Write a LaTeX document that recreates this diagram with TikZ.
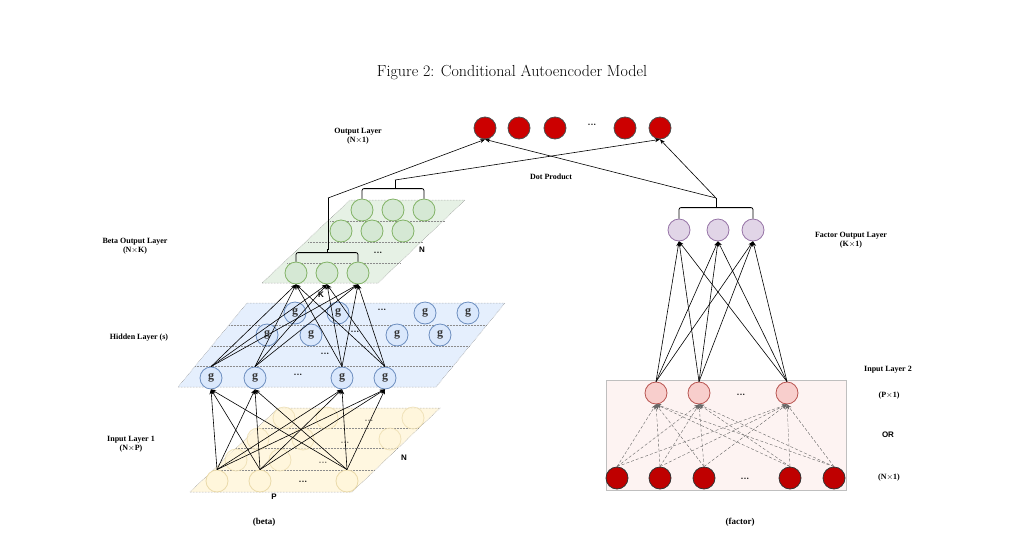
\documentclass[tikz,border=0pt]{standalone}
\usepackage{fontspec}
\setmainfont{Latin Modern Roman}
\newfontfamily\tms{Liberation Serif}
\newfontfamily\hlv{Liberation Sans}
\usetikzlibrary{arrows.meta}
\definecolor{gfill}{HTML}{D5E8D4}\definecolor{gdraw}{HTML}{82B366}
\definecolor{bfill}{HTML}{DAE8FC}\definecolor{bdraw}{HTML}{6C8EBF}
\definecolor{yfill}{HTML}{FFF2CC}\definecolor{ydraw}{HTML}{D6B656}
\definecolor{pfill}{HTML}{E1D5E7}\definecolor{pdraw}{HTML}{9673A6}
\definecolor{rfill}{HTML}{F8CECC}\definecolor{rdraw}{HTML}{B85450}
\definecolor{red2}{HTML}{CC0000}
\tikzset{
 neu/.style={circle,minimum size=22pt,inner sep=0pt,line width=0.8pt},
 gn/.style={neu,fill=gfill,draw=gdraw},
 bn/.style={neu,fill=bfill,draw=bdraw,font=\tms\bfseries\large,text=black!80,execute at begin node={g}},
 yn/.style={neu,fill=yfill!70,draw=ydraw!50},
 pn/.style={neu,fill=pfill,draw=pdraw},
 rn/.style={neu,fill=rfill,draw=rdraw},
 on/.style={neu,fill=red2,draw=black!70},
 dn/.style={neu,fill=red!75!black,draw=black!80},
 lab/.style={font=\tms\bfseries\fontsize{8}{9}\selectfont,align=center},
 sl/.style={font=\hlv\bfseries\fontsize{8}{9}\selectfont},
 dots/.style={font=\bfseries\small},
 plane/.style={draw=black!45,densely dotted,line width=0.5pt},
 row/.style={draw=black!45,densely dotted,line width=0.5pt},
 ar/.style={-{Stealth[length=5pt,width=4pt]},line width=0.6pt},
 br/.style={line width=0.8pt,rounded corners=2pt},
}
\begin{document}
\begin{tikzpicture}[x=1pt,y=-1pt]
\useasboundingbox (0,0) rectangle (1013,547);
\node at (512,72) {\fontsize{16}{18}\selectfont Figure 2: Conditional Autoencoder Model};
% ---------- input plane (yellow)
\fill[yfill!60,plane] (190,492)--(352,492)--(440,408)--(278,408)--cycle;
\foreach \y/\a/\b in {428/257/419,448/236/398,470/213/375}
  \draw[row] (\a,\y)--(\b,\y);
\foreach \n/\x/\y in {y41/284/418,y42/327/418,y43/413/418,y31/258/439,y32/303/439,y33/390/439,y21/236/460,y22/280/460}
  \node[yn,opacity=0.7] (\n) at (\x,\y) {};
\node[dots,opacity=.6] at (369,421) {...};
\node[dots,opacity=.6] at (345,443) {...};
\node[dots,opacity=.6] at (323,463) {...};
\node[yn] (i1) at (217,481) {};
\node[yn] (i2) at (260,481) {};
\node[yn] (i3) at (347,481) {};
\node[dots] at (303,482) {...};
\node[sl] at (404,458) {N};
\node[sl] at (274,497) {P};
% ---------- hidden plane (blue)
\fill[bfill!70,plane] (178,387)--(436,387)--(505,303)--(247,303)--cycle;
\foreach \y/\a/\b in {325/229/487,346/212/470,366/195/453}
  \draw[row] (\a,\y)--(\b,\y);
\foreach \n/\x/\y in {b1/295/313,b2/338/313,b3/425/313,b4/468/313,c1/267/335,c2/311/335,c3/397/335,c4/440/335}
  \node[bn] (\n) at (\x,\y) {};
\node[dots] at (382,310) {...};
\node[dots] at (355,332) {...};
\node[dots] at (325,354) {...};
\node[bn] (h1) at (211,378) {};
\node[bn] (h2) at (255,378) {};
\node[bn] (h3) at (342,378) {};
\node[bn] (h4) at (385,378) {};
\node[dots] at (298,375) {...};
% ---------- beta output plane (green)
\fill[gfill!60,plane] (262,283)--(378,283)--(465,200)--(350,200)--cycle;
\foreach \y/\a/\b in {221/330/445,242/308/423,263/287/401}
  \draw[row] (\a,\y)--(\b,\y);
\foreach \n/\x/\y in {u1/362/210,u2/393/210,u3/424/210,v1/341/231,v2/372/231,v3/403/231}
  \node[gn] (\n) at (\x,\y) {};
\node[dots] at (378,253) {...};
\node[gn] (g1) at (296,273) {};
\node[gn] (g2) at (327,273) {};
\node[gn] (g3) at (358,273) {};
\node[sl] at (422,250) {N};
\node[sl] at (321,295) {K};
% connections beta
\foreach \i in {i1,i2,i3}\foreach \h in {h1,h2,h3,h4}
  \draw[ar] (\i.north) -- (\h.south);
\foreach \h in {h1,h2,h3,h4}\foreach \g in {g1,g2,g3}
  \draw[ar] (\h.north) -- (\g.south);
% ---------- output
\node[on] (o1) at (485,128) {};
\node[on] (o2) at (519,128) {};
\node[on] (o3) at (555,128) {};
\node[on] (o4) at (625,128) {};
\node[on] (o5) at (660,128) {};
\node[dots] at (592,125) {...};
% brackets
\coordinate (bb) at (328,198);
\coordinate (bt) at (395,180);
\coordinate (ft) at (716,198);
\draw[br] (g1.north)--++(0,-9)-|(g3.north);
\draw[line width=1pt] (327,253)--++(0,-4)--(328,249)--(bb);
\draw[br] (u1.north)--++(0,-10)-|(u3.north);
\draw[line width=0.8pt] (395,189)--(bt);
\draw[ar] (bb) -- (o1.south);
\draw[ar] (bt) -- (o5.south);
% ---------- factor
\fill[rfill!25,draw=black!25,line width=0.8pt] (606,380) rectangle (846,490);
\node[rn] (p1) at (656,393) {};
\node[rn] (p2) at (699,393) {};
\node[rn] (p3) at (787,393) {};
\node[dots] at (741,395) {...};
\foreach \n/\x in {r1/617,r2/660,r3/704,r4/790,r5/834}
  \node[dn] (\n) at (\x,478) {};
\node[dots] at (745,479) {...};
\foreach \r in {r1,r2,r3,r4,r5}\foreach \p in {p1,p2,p3}
  \draw[ar,densely dashed,draw=black!60,line width=0.4pt] (\r.north) -- (\p.south);
\node[pn] (f1) at (679,230) {};
\node[pn] (f2) at (718,230) {};
\node[pn] (f3) at (753,230) {};
\foreach \p in {p1,p2,p3}\foreach \f in {f1,f2,f3}
  \draw[ar] (\p.north) -- (\f.south);
\draw[br] (f1.north)--++(0,-11)-|(f3.north);
\draw[line width=0.8pt] (716,208)--(ft);
\draw[ar] (ft) -- (o1.south);
\draw[ar] (ft) -- (o5.south);
% ---------- labels
\node[lab] at (358,136) {Output Layer\\(N$\times$1)};
\node[lab] at (551,177) {Dot Product};
\node[lab] at (135,246) {Beta Output Layer\\(N$\times$K)};
\node[lab] at (139,338) {Hidden Layer (s)};
\node[lab] at (131,444) {Input Layer 1\\(N$\times$P)};
\node[lab] at (851,240) {Factor Output Layer\\(K$\times$1)};
\node[lab] at (888,370) {Input Layer 2};
\node[lab] at (889,396) {(P$\times$1)};
\node[sl] at (888,435) {OR};
\node[lab] at (889,478) {(N$\times$1)};
\node[lab,font=\tms\bfseries\fontsize{9}{10}\selectfont] at (264,522) {(beta)};
\node[lab,font=\tms\bfseries\fontsize{9}{10}\selectfont] at (740,522) {(factor)};
\end{tikzpicture}
\end{document}
